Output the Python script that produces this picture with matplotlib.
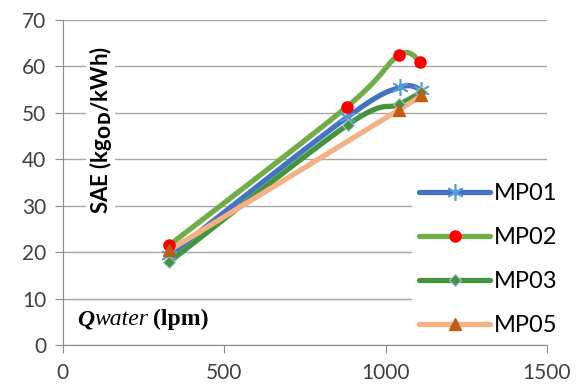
import numpy as np
import matplotlib.pyplot as plt

# data
flow_mp01 = [330, 880, 1045, 1110]
sae_mp01 = [19.3, 49.0, 55.5, 55.0]
flow_mp02 = [330, 880, 1042, 1108]
sae_mp02 = [21.5, 51.3, 62.5, 61.0]
flow_mp03 = [330, 882, 1040, 1110]
sae_mp03 = [17.9, 47.4, 51.8, 54.5]
flow_mp05 = [330, 1040, 1110]
sae_mp05 = [20.4, 50.6, 53.9]

series = ['MP01', 'MP02', 'MP03', 'MP05']
x_ticks = [0, 500, 1000, 1500]
y_ticks = [0, 10, 20, 30, 40, 50, 60, 70]


def smooth(xs, ys, n=40):
    # Excel-like smoothed line: cubic bezier through the points
    p = np.column_stack([xs, ys]).astype(float)
    if len(p) < 3:
        return p[:, 0], p[:, 1]
    ext = np.vstack([p[0], p, p[-1]])
    out = []
    for i in range(1, len(ext) - 2):
        p0, p1, p2, p3 = ext[i - 1], ext[i], ext[i + 1], ext[i + 2]
        c1 = p1 + (p2 - p0) / 6
        c2 = p2 - (p3 - p1) / 6
        t = np.linspace(0, 1, n)[:, None]
        seg = (1 - t) ** 3 * p1 + 3 * (1 - t) ** 2 * t * c1 + 3 * (1 - t) * t ** 2 * c2 + t ** 3 * p2
        out.append(seg)
    out = np.vstack(out)
    return out[:, 0], out[:, 1]


plt.rcParams['font.family'] = ['Lato', 'DejaVu Sans']
fig = plt.figure(figsize=(5.77, 3.92), dpi=100)
ax = fig.add_axes([0.109, 0.12, 0.839, 0.829])

styles = [
    dict(color='#4472C4', marker=(6, 2, 0), mfc='#5B9BD5', mec='#5B9BD5', ms=12, mew=1.2),
    dict(color='#70AD47', marker='o', mfc='#FF0000', mec='#FF0000', ms=8),
    dict(color='#43943A', marker='D', mfc='#43943A', mec='#9DC3E6', ms=6, mew=0.8),
    dict(color='#F4B183', marker='^', mfc='#C55A11', mec='#C55A11', ms=9),
]
data = [(flow_mp01, sae_mp01), (flow_mp02, sae_mp02), (flow_mp03, sae_mp03), (flow_mp05, sae_mp05)]

for name, (xs, ys), st in zip(series, data, styles):
    sx, sy = smooth(xs, ys)
    ax.plot(sx, sy, color=st['color'], lw=3.8, solid_capstyle='round', zorder=3)
    ax.plot(xs, ys, ls='none', marker=st['marker'], mfc=st['mfc'], mec=st['mec'],
            ms=st['ms'], mew=st.get('mew', 1), zorder=4)
    ax.plot([], [], color=st['color'], lw=3.8, solid_capstyle='round', marker=st['marker'],
            mfc=st['mfc'], mec=st['mec'], ms=st['ms'], mew=st.get('mew', 1), label=name)

ax.set_xlim(0, 1500)
ax.set_ylim(0, 70)
ax.set_xticks(x_ticks)
ax.set_yticks(y_ticks)
ax.tick_params(axis='both', labelsize=15, colors='#404040', length=6, color='#8c8c8c')
ax.tick_params(axis='x', pad=7)
ax.tick_params(axis='y', pad=6)
ax.grid(axis='y', color='#a6a6a6', lw=1)
ax.set_axisbelow(True)
for s in ['top', 'right']:
    ax.spines[s].set_visible(False)
for s in ['left', 'bottom']:
    ax.spines[s].set_color('#8c8c8c')

ax.text(0.078, 0.66, 'SAE (kg$_{\\mathbf{OD}}$/kWh)', transform=ax.transAxes, rotation=90,
        ha='center', va='center', fontsize=16, fontweight='bold', zorder=5,
        bbox=dict(facecolor='white', edgecolor='none', pad=1))

# Qwater (lpm) caption inside the axes
q = ax.text(0.03, 0.06, 'Q', transform=ax.transAxes, fontsize=17, fontweight='bold',
            fontstyle='italic', family='Liberation Serif', va='baseline', zorder=5)
w = ax.annotate('water', xy=(1, 0), xycoords=q, xytext=(0, 0), textcoords='offset points',
                fontsize=17, fontstyle='italic', family='Liberation Serif', va='bottom', zorder=5)
ax.annotate('(lpm)', xy=(1, 0), xycoords=w, xytext=(3, 0), textcoords='offset points',
            fontsize=17, fontweight='bold', family='Liberation Serif', va='bottom', zorder=5)

leg = ax.legend(loc='lower right', bbox_to_anchor=(1.06, -0.03), frameon=True, fontsize=17,
                handlelength=3.0, labelspacing=0.97, handletextpad=0.15, borderpad=0.3)
leg.get_frame().set_facecolor('white')
leg.get_frame().set_edgecolor('none')
leg.get_frame().set_alpha(1)
leg.set_zorder(6)

fig.savefig('out.png', dpi=100)
